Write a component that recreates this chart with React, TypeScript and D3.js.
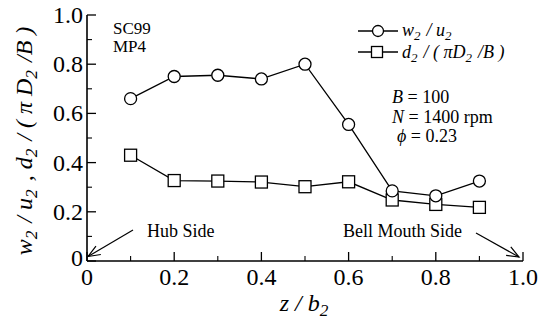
import React from "react";
import * as d3 from "d3";

const zValues = [0.1, 0.2, 0.3, 0.4, 0.5, 0.6, 0.7, 0.8, 0.9];
const wRatio = [0.66, 0.75, 0.755, 0.74, 0.8, 0.555, 0.285, 0.265, 0.325];
const dRatio = [0.43, 0.327, 0.325, 0.321, 0.302, 0.322, 0.248, 0.23, 0.218];
const xTickValues = [0, 0.2, 0.4, 0.6, 0.8, 1.0];
const xTickLabels = ["0", "0.2", "0.4", "0.6", "0.8", "1.0"];
const yTickValues = [0, 0.2, 0.4, 0.6, 0.8, 1.0];
const yTickLabels = ["0", "0.2", "0.4", "0.6", "0.8", "1.0"];
const minorTicks = [0.1, 0.3, 0.5, 0.7, 0.9];

const W = 551;
const H = 323;
const FONT = "Liberation Serif, Times New Roman, DejaVu Serif, serif";

export default function App() {
  const x = d3.scaleLinear().domain([0, 1]).range([87, 523]);
  const y = d3.scaleLinear().domain([0, 1]).range([261, 15]);
  const wPts: [number, number][] = zValues.map((z, i) => [x(z), y(wRatio[i])]);
  const dPts: [number, number][] = zValues.map((z, i) => [x(z), y(dRatio[i])]);
  const line = d3.line();
  const sw = 1.3;

  const arrowHead = (x1: number, y1: number, x2: number, y2: number) => {
    const ang = Math.atan2(y2 - y1, x2 - x1);
    const L = 13;
    const a = 0.38;
    const p1 = [x2 - L * Math.cos(ang - a), y2 - L * Math.sin(ang - a)];
    const p2 = [x2 - L * Math.cos(ang + a), y2 - L * Math.sin(ang + a)];
    return `M${p1[0]},${p1[1]}L${x2},${y2}L${p2[0]},${p2[1]}`;
  };

  const sub = (t: string, size: number) => (
    <>
      <tspan dy={size * 0.22} fontSize={size * 0.72}>{t}</tspan>
      <tspan dy={-size * 0.22}>{"\u200A"}</tspan>
    </>
  );

  const txt = { fontFamily: FONT } as React.CSSProperties;

  return (
    <svg
      width={W}
      height={H}
      style={{ position: "absolute", left: 0, top: 0, background: "#fff", fontFamily: FONT }}
    >
      <rect width={W} height={H} fill="#fff" />
      {/* axes */}
      <line x1={x(0)} x2={x(0)} y1={y(0)} y2={y(1)} stroke="#000" strokeWidth={1.6} />
      <line x1={x(0)} x2={x(1)} y1={y(0)} y2={y(0)} stroke="#000" strokeWidth={1.6} />
      {yTickValues.map((v) => (
        <line key={"yt" + v} x1={x(0)} x2={x(0) + 9} y1={y(v)} y2={y(v)} stroke="#000" strokeWidth={1.3} />
      ))}
      {minorTicks.map((v) => (
        <line key={"ym" + v} x1={x(0)} x2={x(0) + 5} y1={y(v)} y2={y(v)} stroke="#000" strokeWidth={1.1} />
      ))}
      {xTickValues.map((v) => (
        <line key={"xt" + v} x1={x(v)} x2={x(v)} y1={y(0)} y2={y(0) - 9} stroke="#000" strokeWidth={1.3} />
      ))}
      {minorTicks.map((v) => (
        <line key={"xm" + v} x1={x(v)} x2={x(v)} y1={y(0)} y2={y(0) - 5} stroke="#000" strokeWidth={1.1} />
      ))}
      {yTickValues.map((v, i) => (
        <text key={"yl" + v} style={txt} x={x(0) - 4} y={v === 0 ? y(v) + 5 : y(v) + 8} fontSize={24} textAnchor="end">
          {yTickLabels[i]}
        </text>
      ))}
      {xTickValues.map((v, i) => (
        <text key={"xl" + v} style={txt} x={x(v)} y={285} fontSize={24} textAnchor="middle">
          {xTickLabels[i]}
        </text>
      ))}
      {/* axis titles */}
      <text style={txt} x={305} y={311} fontSize={24} fontStyle="italic" textAnchor="middle">
        z / b{sub("2", 24)}
      </text>
      <text
        style={txt}
        transform="translate(32,141) rotate(-90)"
        fontSize={24}
        fontStyle="italic"
        textAnchor="middle"
      >
        w{sub("2", 24)} / u{sub("2", 24)} , d{sub("2", 24)} / ( {"\u03C0"} D{sub("2", 24)} /B )
      </text>
      {/* data lines */}
      <path d={line(wPts) || ""} fill="none" stroke="#000" strokeWidth={sw} />
      <path d={line(dPts) || ""} fill="none" stroke="#000" strokeWidth={sw} />
      {dPts.map(([px, py], i) => (
        <rect key={"s" + i} x={px - 6} y={py - 6} width={12} height={12} fill="#fff" stroke="#000" strokeWidth={sw} />
      ))}
      {wPts.map(([px, py], i) => (
        <circle key={"c" + i} cx={px} cy={py} r={6} fill="#fff" stroke="#000" strokeWidth={sw} />
      ))}
      {/* legend */}
      <line x1={358} x2={398} y1={31} y2={31} stroke="#000" strokeWidth={sw} />
      <circle cx={378} cy={31} r={5.5} fill="#fff" stroke="#000" strokeWidth={sw} />
      <text style={txt} x={402} y={36} fontSize={18} fontStyle="italic">
        w{sub("2", 18)} / u{sub("2", 18)}
      </text>
      <line x1={358} x2={398} y1={52} y2={52} stroke="#000" strokeWidth={sw} />
      <rect x={371.5} y={46.5} width={11} height={11} fill="#fff" stroke="#000" strokeWidth={sw} />
      <text style={txt} x={402} y={58} fontSize={18} fontStyle="italic">
        d{sub("2", 18)} / ( {"\u03C0"}D{sub("2", 18)} /B )
      </text>
      {/* annotations */}
      <text style={txt} x={113} y={34} fontSize={17}>SC99</text>
      <text style={txt} x={113} y={52} fontSize={17}>MP4</text>
      <text style={txt} x={392} y={103} fontSize={18}>
        <tspan fontStyle="italic">B</tspan> = 100
      </text>
      <text style={txt} x={392} y={123} fontSize={18}>
        <tspan fontStyle="italic">N</tspan> = 1400 rpm
      </text>
      <text style={txt} x={397} y={142} fontSize={18}>
        <tspan fontStyle="italic">{"\u03D5"}</tspan> = 0.23
      </text>
      <text style={txt} x={147} y={237} fontSize={18}>Hub Side</text>
      <text style={txt} x={343} y={237} fontSize={18}>Bell Mouth Side</text>
      <path d="M133,230L88,256.5" stroke="#000" strokeWidth={1.2} fill="none" />
      <path d={arrowHead(133, 230, 88, 256.5)} stroke="#000" strokeWidth={1.2} fill="none" />
      <path d="M476,233L519,257" stroke="#000" strokeWidth={1.2} fill="none" />
      <path d={arrowHead(476, 233, 519, 257)} stroke="#000" strokeWidth={1.2} fill="none" />
    </svg>
  );
}
